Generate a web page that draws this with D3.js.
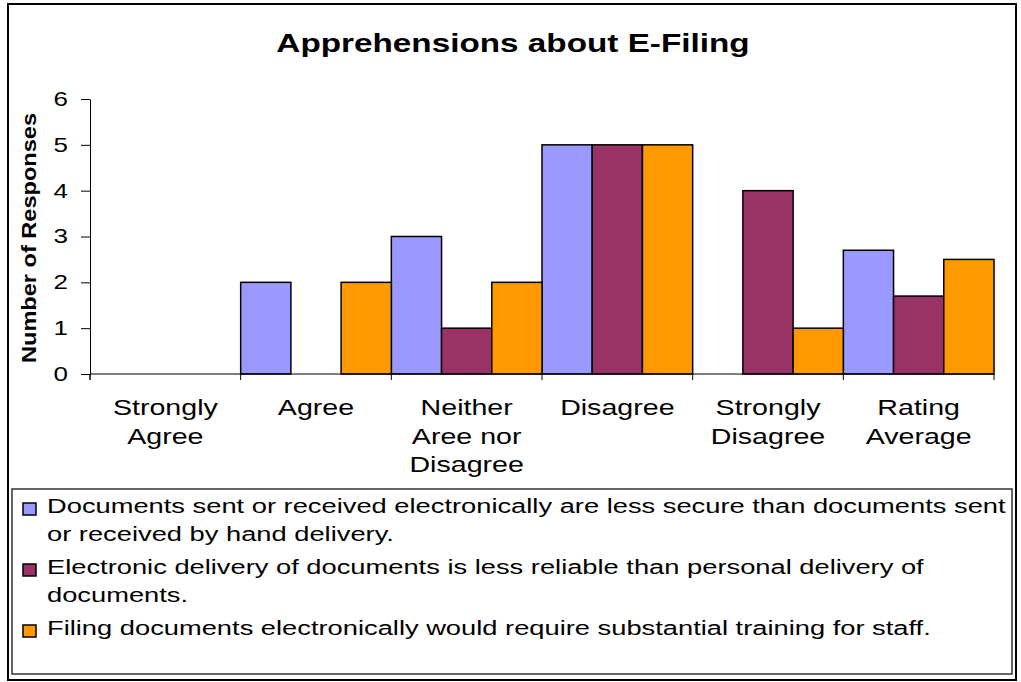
<!DOCTYPE html>
<html>
<head>
<meta charset="utf-8">
<script src="https://cdn.jsdelivr.net/npm/d3@7"></script>
<style>
  body { margin: 0; background: #fff; }
  svg text { font-family: "Liberation Sans", Arial, sans-serif; fill: #000; }
</style>
</head>
<body>
<svg width="1021" height="682"></svg>
<script>
// chart data
var categories = ["Strongly Agree", "Agree", "Neither Aree nor Disagree", "Disagree", "Strongly Disagree", "Rating Average"];
var categoryLines = [["Strongly", "Agree"], ["Agree"], ["Neither", "Aree nor", "Disagree"], ["Disagree"], ["Strongly", "Disagree"], ["Rating", "Average"]];
var seriesNames = [
    "Documents sent or received electronically are less secure than documents sent or received by hand delivery.",
    "Electronic delivery of documents is less reliable than personal delivery of documents.",
    "Filing documents electronically would require substantial training for staff."
];
var seriesColors = ["#9999FF", "#993366", "#FF9900"];
var secureValues = [0, 2, 3, 5, 0, 2.7];
var reliableValues = [0, 0, 1, 5, 4, 1.7];
var trainingValues = [0, 2, 2, 5, 1, 2.5];
var yTicks = [0, 1, 2, 3, 4, 5, 6];

var seriesValues = [secureValues, reliableValues, trainingValues];

// the picture is stretched sideways, so text gets a horizontal scale
var sx = 1.3;

var svg = d3.select("svg");

//outer frame
svg.append("rect")
    .attr("x", 8).attr("y", 4)
    .attr("width", 1008).attr("height", 676)
    .attr("fill", "#fff").attr("stroke", "#000").attr("stroke-width", 2);

//scales
var x = d3.scaleBand().domain(categories).range([90, 994]).padding(0);
var xInner = d3.scaleBand().domain(d3.range(seriesValues.length)).range([0, x.bandwidth()]).padding(0);
var y = d3.scaleLinear().domain([0, 6]).range([374, 99]);

//bars, one group per series
var groups = svg.selectAll(".series")
    .data(seriesValues)
    .enter().append("g")
    .attr("class", "series")
    .attr("fill", function (d, i) { return seriesColors[i]; });

groups.selectAll("rect")
    .data(function (d, i) {
        return d.map(function (v, j) { return { s: i, cat: categories[j], v: v }; })
            .filter(function (p) { return p.v > 0; });
    })
    .enter().append("rect")
    .attr("x", function (d) { return x(d.cat) + xInner(d.s); })
    .attr("y", function (d) { return y(d.v); })
    .attr("width", xInner.bandwidth())
    .attr("height", function (d) { return y(0) - y(d.v); })
    .attr("stroke", "#000")
    .attr("stroke-width", 1.5);

//y axis
var yAxis = svg.append("g")
    .attr("transform", "translate(90,0)")
    .call(d3.axisLeft(y).tickValues(yTicks).tickFormat(d3.format("d")).tickSize(9).tickSizeOuter(0));
yAxis.attr("font-size", 20).attr("font-family", null);
yAxis.select(".domain").attr("stroke", "#000");
yAxis.selectAll(".tick line").attr("stroke", "#000");
yAxis.selectAll(".tick text")
    .attr("x", -22 / sx)
    .attr("transform", "scale(" + sx + ",1)");
yAxis.append("line")
    .attr("x1", 0).attr("x2", 0)
    .attr("y1", y(0)).attr("y2", y(0) + 6)
    .attr("stroke", "#000");

//x axis line with ticks on category boundaries
var xAxis = svg.append("g");
xAxis.append("line")
    .attr("x1", x.range()[0]).attr("x2", x.range()[1])
    .attr("y1", y(0)).attr("y2", y(0))
    .attr("stroke", "#000");
var bounds = categories.map(function (c) { return x(c); }).concat([x.range()[1]]);
xAxis.selectAll(".xtick")
    .data(bounds)
    .enter().append("line")
    .attr("class", "xtick")
    .attr("x1", function (d) { return d; }).attr("x2", function (d) { return d; })
    .attr("y1", y(0)).attr("y2", y(0) + 6)
    .attr("stroke", "#000");

//category labels
var catLabel = svg.selectAll(".cat")
    .data(categories)
    .enter().append("g")
    .attr("class", "cat")
    .attr("transform", function (d) { return "translate(" + (x(d) + x.bandwidth() / 2) + ",415)"; });
catLabel.each(function (d, i) {
    d3.select(this).selectAll("text")
        .data(categoryLines[i])
        .enter().append("text")
        .attr("transform", function (t, k) { return "translate(0," + (k * 28.5) + ") scale(" + sx + ",1)"; })
        .attr("text-anchor", "middle")
        .attr("font-size", 22)
        .text(function (t) { return t; });
});

//title
svg.append("text")
    .attr("transform", "translate(513,52) scale(1.28,1)")
    .attr("text-anchor", "middle")
    .attr("font-size", 26)
    .attr("font-weight", "bold")
    .text("Apprehensions about E-Filing");

//y axis title, tight and heavy like the original
svg.append("text")
    .attr("transform", "translate(36,238) rotate(-90)")
    .attr("text-anchor", "middle")
    .attr("font-size", 21)
    .attr("font-weight", "bold")
    .attr("textLength", 250)
    .attr("lengthAdjust", "spacingAndGlyphs")
    .text("Number of Responses");

//legend box
svg.append("rect")
    .attr("x", 12).attr("y", 489)
    .attr("width", 1000).attr("height", 185)
    .attr("fill", "#fff").attr("stroke", "#333").attr("stroke-width", 1.5);

//word wrap for legend entries
function wrapLines(str, maxWidth, fontSize) {
    var probe = svg.append("text").attr("font-size", fontSize);
    var words = str.split(" "), lines = [], line = "";
    words.forEach(function (w) {
        var test = line ? line + " " + w : w;
        probe.text(test);
        if (probe.node().getComputedTextLength() * sx > maxWidth && line) {
            lines.push(line);
            line = w;
        } else {
            line = test;
        }
    });
    lines.push(line);
    probe.remove();
    return lines;
}

var baseline = 513;
seriesNames.forEach(function (name, i) {
    var lines = wrapLines(name, 960, 21);
    svg.append("rect")
        .attr("x", 23).attr("y", baseline - 10)
        .attr("width", 13).attr("height", 12)
        .attr("fill", seriesColors[i])
        .attr("stroke", "#000").attr("stroke-width", 1.5);
    lines.forEach(function (t, k) {
        svg.append("text")
            .attr("transform", "translate(47," + (baseline + k * 28) + ") scale(" + sx + ",1)")
            .attr("font-size", 21)
            .text(t);
    });
    baseline += lines.length * 28 + 5;
});
</script>
</body>
</html>
